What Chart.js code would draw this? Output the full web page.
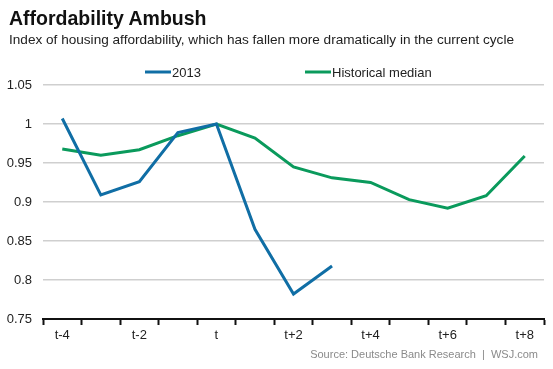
<!DOCTYPE html>
<html>
<head>
<meta charset="utf-8">
<script src="https://cdn.jsdelivr.net/npm/chart.js@4"></script>
<style>
  html, body { margin: 0; padding: 0; background: #fff; }
  #wrap { position: relative; width: 553px; height: 369px; font-family: "Liberation Sans", Arial, sans-serif; }
  #chart { position: absolute; left: 0; top: 0; }
  .title { position: absolute; left: 9px; top: 7px; font-size: 19.5px; font-weight: bold; color: #111; }
  .sub { position: absolute; left: 9px; top: 32px; font-size: 13.6px; color: #222; }
  .source { position: absolute; right: 15px; top: 348px; font-size: 11px; color: #8a8a8a; }
</style>
</head>
<body>
<div id="wrap">
  <canvas id="chart" width="553" height="369"></canvas>
  <div class="title">Affordability Ambush</div>
  <div class="sub">Index of housing affordability, which has fallen more dramatically in the current cycle</div>
  <div class="source">Source: Deutsche Bank Research &nbsp;|&nbsp; WSJ.com</div>
</div>
<script>
  // ---------- Data ----------
  const periods = ['t-4', 't-3', 't-2', 't-1', 't', 't+1', 't+2', 't+3', 't+4', 't+5', 't+6', 't+7', 't+8'];
  const cycle2013 = [1.007, 0.909, 0.926, 0.989, 1.0, 0.865, 0.782, 0.818, null, null, null, null, null];
  const historicalMedian = [0.968, 0.960, 0.967, 0.985, 1.0, 0.982, 0.945, 0.931, 0.925, 0.903, 0.892, 0.908, 0.959];
  const yTicks = [0.75, 0.8, 0.85, 0.9, 0.95, 1, 1.05];

  const BLUE = '#106ea5';
  const GREEN = '#0a9a5c';

  // legend drawn as short line + label, like the original
  const lineLegend = {
    id: 'lineLegend',
    afterDraw(chart) {
      const ctx = chart.ctx;
      const spots = [145, 305];
      chart.data.datasets.forEach((ds, i) => {
        const x = spots[i];
        const y = 72;
        ctx.save();
        ctx.strokeStyle = ds.borderColor;
        ctx.lineWidth = 3;
        ctx.beginPath();
        ctx.moveTo(x, y);
        ctx.lineTo(x + 26, y);
        ctx.stroke();
        ctx.fillStyle = '#222';
        ctx.font = '13px "Liberation Sans", Arial, sans-serif';
        ctx.textBaseline = 'middle';
        ctx.fillText(ds.label, x + 27, y + 1);
        ctx.restore();
      });
    }
  };

  new Chart(document.getElementById('chart'), {
    type: 'line',
    data: {
      labels: periods,
      datasets: [
        { label: '2013', data: cycle2013, borderColor: BLUE, backgroundColor: BLUE, borderWidth: 3, pointRadius: 0, tension: 0, spanGaps: false },
        { label: 'Historical median', data: historicalMedian, borderColor: GREEN, backgroundColor: GREEN, borderWidth: 3, pointRadius: 0, tension: 0 },
      ],
    },
    options: {
      responsive: false,
      animation: false,
      layout: { padding: { top: 85, right: 9, left: 0, bottom: 0 } },
      plugins: {
        legend: { display: false },
        tooltip: { enabled: false },
      },
      scales: {
        x: {
          offset: true,
          grid: { offset: true, drawOnChartArea: false, drawTicks: true, tickLength: 6, tickWidth: 2, tickColor: '#111' },
          border: { display: true, color: '#111', width: 2 },
          ticks: {
            autoSkip: false,
            maxRotation: 0,
            padding: 3,
            color: '#222',
            font: { family: '"Liberation Sans", Arial, sans-serif', size: 13 },
            callback: (v, i) => (i % 2 ? '' : periods[i]),
          },
          afterFit: (s) => { s.height = 50; },
        },
        y: {
          min: yTicks[0],
          max: yTicks[yTicks.length - 1],
          afterBuildTicks: (s) => { s.ticks = yTicks.map((v) => ({ value: v })); },
          grid: { color: '#cfcfcf', lineWidth: 1.5, drawTicks: false },
          border: { display: false },
          ticks: {
            padding: 11,
            color: '#222',
            font: { family: '"Liberation Sans", Arial, sans-serif', size: 13 },
            callback: (v) => String(+v.toFixed(2)),
          },
          afterFit: (s) => { s.width = 43; },
        },
      },
    },
    plugins: [lineLegend],
  });
</script>
</body>
</html>
